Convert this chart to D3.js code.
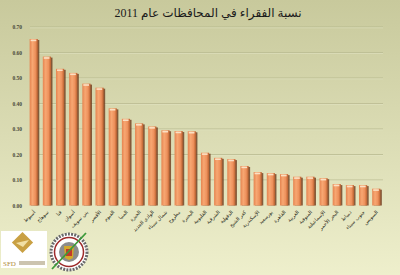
<!DOCTYPE html>
<html>
<head>
<meta charset="utf-8">
<script src="https://cdn.jsdelivr.net/npm/d3@7"></script>
<style>
  body { margin: 0; }
  svg { display: block; }
</style>
</head>
<body>
<div id="chart"></div>
<script>
var width = 400;
var height = 275;

var title = "نسبة الفقراء في المحافظات عام 2011";

var governorates = [
  "أسيوط", "سوهاج", "قنا", "أسوان", "بني سويف", "الأقصر", "الفيوم",
  "المنيا", "الجيزة", "الوادي الجديد", "شمال سيناء", "مطروح", "البحيرة",
  "القليوبية", "الشرقية", "الدقهلية", "كفر الشيخ", "الإسكندرية", "بورسعيد",
  "القاهرة", "الغربية", "المنوفية", "الإسماعيلية", "البحر الأحمر", "دمياط",
  "جنوب سيناء", "السويس"
];

var poverty = [
  0.653, 0.584, 0.536, 0.520, 0.478, 0.462, 0.381,
  0.340, 0.322, 0.310, 0.295, 0.292, 0.291,
  0.207, 0.187, 0.182, 0.155, 0.131, 0.127,
  0.123, 0.113, 0.113, 0.107, 0.084, 0.080,
  0.080, 0.066
];

var yTicks = [0, 0.1, 0.2, 0.3, 0.4, 0.5, 0.6, 0.7];

var chartMargin = { top: 27, right: 17, bottom: 70, left: 27 };

var svg = d3.select("#chart")
  .append("svg")
  .attr("width", width)
  .attr("height", height);

var defs = svg.append("defs");

var bg = defs.append("linearGradient")
  .attr("id", "bg")
  .attr("x1", 0).attr("y1", 0).attr("x2", 0).attr("y2", 1);
bg.append("stop").attr("offset", "0%").attr("stop-color", "#c8c99c");
bg.append("stop").attr("offset", "100%").attr("stop-color", "#eeefcc");

var barGrad = defs.append("linearGradient")
  .attr("id", "bar")
  .attr("x1", 0).attr("y1", 0).attr("x2", 1).attr("y2", 0);
barGrad.append("stop").attr("offset", "0%").attr("stop-color", "#e58450");
barGrad.append("stop").attr("offset", "35%").attr("stop-color", "#f7a772");
barGrad.append("stop").attr("offset", "70%").attr("stop-color", "#ee915c");
barGrad.append("stop").attr("offset", "100%").attr("stop-color", "#b9602f");

svg.append("rect")
  .attr("width", width)
  .attr("height", height)
  .attr("fill", "url(#bg)");

svg.append("text")
  .text(title)
  .attr("x", 208)
  .attr("y", 17)
  .attr("text-anchor", "middle")
  .attr("font-family", "Liberation Serif, DejaVu Sans, serif")
  .attr("font-size", 12)
  .attr("fill", "#1a1a1a");

var xScale = d3.scaleBand()
  .domain(governorates)
  .range([chartMargin.left, width - chartMargin.right])
  .paddingInner(0.38)
  .paddingOuter(0.2);

var yScale = d3.scaleLinear()
  .domain([0, 0.7])
  .range([205.5, chartMargin.top]);

// gridlines
var grid = svg.append("g");
grid.selectAll(".gl")
  .data(yTicks.slice(1))
  .enter()
  .append("line")
  .attr("x1", 30)
  .attr("x2", 383)
  .attr("y1", d => yScale(d))
  .attr("y2", d => yScale(d))
  .attr("stroke", "#b4b58a")
  .attr("stroke-width", 0.8);
grid.selectAll(".gh")
  .data(yTicks.slice(1))
  .enter()
  .append("line")
  .attr("x1", 30)
  .attr("x2", 383)
  .attr("y1", d => yScale(d) + 0.8)
  .attr("y2", d => yScale(d) + 0.8)
  .attr("stroke", "#e4e5c6")
  .attr("stroke-width", 0.6);

var yAxis = d3.axisLeft(yScale)
  .tickValues(yTicks)
  .tickFormat(d3.format(".2f"))
  .tickSize(0)
  .tickPadding(5);

var yG = svg.append("g")
  .attr("transform", "translate(27,0)")
  .call(yAxis);
yG.select(".domain").remove();
yG.selectAll("text")
  .attr("font-family", "Liberation Serif, serif")
  .attr("font-weight", "bold")
  .attr("font-size", 5.5)
  .attr("fill", "#4a4a3a");

// bars
var bars = svg.selectAll(".barg").data(poverty).enter().append("g");

bars.append("rect")
  .attr("x", (d, i) => xScale(governorates[i]) + 1.5)
  .attr("y", d => yScale(d) + 1)
  .attr("width", xScale.bandwidth())
  .attr("height", d => yScale(0) - yScale(d) - 1)
  .attr("fill", "#6e3a1c")
  .attr("opacity", 0.8);

bars.append("rect")
  .attr("x", (d, i) => xScale(governorates[i]))
  .attr("y", d => yScale(d))
  .attr("width", xScale.bandwidth())
  .attr("height", d => yScale(0) - yScale(d))
  .attr("fill", "url(#bar)");

bars.append("rect")
  .attr("x", (d, i) => xScale(governorates[i]) + 1)
  .attr("y", d => yScale(d) + 0.6)
  .attr("width", xScale.bandwidth() - 2.5)
  .attr("height", 1.6)
  .attr("fill", "#fbe0c4");

// x labels: right edge of each label at its tick, running down-left
var xG = svg.append("g");
xG.selectAll("g")
  .data(governorates)
  .enter()
  .append("g")
  .attr("transform", d => "translate(" + (xScale(d) + xScale.bandwidth() / 2 + 2) + "," + (yScale(0) + 7) + ") rotate(-45)")
  .append("text")
  .text(d => d)
  .attr("text-anchor", "middle")
  .attr("font-family", "DejaVu Sans, sans-serif")
  .attr("font-size", 5)
  .attr("fill", "#2a2a20")
  .attr("x", function() { return -this.getComputedTextLength() / 2; });

// logos (simplified)
var logo = svg.append("g");
logo.append("rect")
  .attr("x", 1).attr("y", 231).attr("width", 46).attr("height", 37)
  .attr("fill", "#ffffff");
logo.append("rect")
  .attr("x", 15).attr("y", 235).attr("width", 15).attr("height", 15)
  .attr("transform", "rotate(45 22.5 242.5)")
  .attr("fill", "#c9a043");
logo.append("path")
  .attr("d", "M16,243 L29,240 L23,247 Z")
  .attr("fill", "#f1dfa5");
logo.append("text")
  .text("SFD")
  .attr("x", 3).attr("y", 266)
  .attr("font-family", "Liberation Serif, serif")
  .attr("font-size", 7)
  .attr("fill", "#b08a3a");
logo.append("rect")
  .attr("x", 19).attr("y", 261).attr("width", 26).attr("height", 4)
  .attr("fill", "#9a8a60").attr("opacity", 0.5);

var em = svg.append("g").attr("transform", "translate(69,252)");
em.append("circle").attr("r", 19).attr("fill", "#ffffff");
em.append("circle").attr("r", 18).attr("fill", "none")
  .attr("stroke", "#6a6a6a").attr("stroke-width", 3).attr("stroke-dasharray", "2,1.2");
em.append("circle").attr("r", 14.5).attr("fill", "none")
  .attr("stroke", "#9e2b2b").attr("stroke-width", 1.5);
em.append("circle").attr("r", 10).attr("fill", "#8c8c8c");
em.append("path")
  .attr("d", "M-5,-6 L5,-6 L4,6 L0,8 L-4,6 Z")
  .attr("fill", "#d4a82c");
em.append("rect").attr("x", -3).attr("y", -3).attr("width", 6).attr("height", 7)
  .attr("fill", "#c23a2a");
em.append("line")
  .attr("x1", -17).attr("y1", 17).attr("x2", 17).attr("y2", -19)
  .attr("stroke", "#3d9a3a").attr("stroke-width", 1.8);
</script>
</body>
</html>
